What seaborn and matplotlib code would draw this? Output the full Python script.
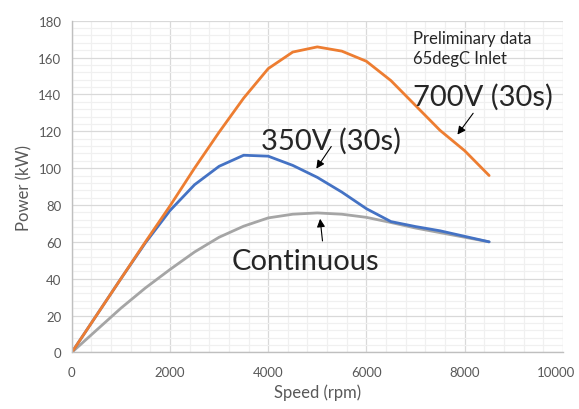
import numpy as np
import pandas as pd
import matplotlib
matplotlib.use("Agg")
import matplotlib.pyplot as plt
import matplotlib.transforms as mtransforms
from matplotlib.ticker import MultipleLocator
import seaborn as sns

# Values (kW against rpm)
speed = [0, 500, 1000, 1500, 2000, 2500, 3000, 3500, 4000, 4500,
         5000, 5500, 6000, 6500, 7000, 7500, 8000, 8500]
power_700 = [0, 20, 40, 60, 79.5, 100, 119.5, 138, 154, 163,
             165.8, 163.5, 158, 147.5, 134, 120.5, 109.5, 96]
power_350 = [0, 20, 40, 59.5, 77, 91, 101, 107, 106.5, 101.5,
             95, 87, 78, 71, 68.3, 66, 63, 60]
power_cont = [0, 12, 24, 35, 45, 54.5, 62.5, 68.5, 73, 75,
              75.7, 75, 73.3, 70.5, 67.5, 65, 62.5, 60]
x_ticks = [0, 2000, 4000, 6000, 8000, 10000]

data = pd.concat([
    pd.DataFrame({"speed": speed, "power": power_700, "series": "700V (30s)"}),
    pd.DataFrame({"speed": speed, "power": power_350, "series": "350V (30s)"}),
    pd.DataFrame({"speed": speed, "power": power_cont, "series": "Continuous"}),
], ignore_index=True)
palette = {"700V (30s)": "#ED7D31", "350V (30s)": "#4472C4", "Continuous": "#A5A5A5"}
draw_order = ["Continuous", "350V (30s)", "700V (30s)"]

sns.set_style("white")
plt.rcParams["font.family"] = ["Lato", "DejaVu Sans"]

fig = plt.figure(figsize=(5.79, 4.10), dpi=100)
ax = fig.add_axes([0.124, 0.138, 0.848, 0.809])

ax.set_xlim(0, 10000)
ax.set_ylim(0, 180)
ax.set_xticks(x_ticks)
ax.xaxis.set_minor_locator(MultipleLocator(400))
ax.yaxis.set_major_locator(MultipleLocator(20))
ax.yaxis.set_minor_locator(MultipleLocator(4))
ax.grid(which="minor", color="#f0f0f0", linewidth=0.9)
ax.grid(which="major", color="#d9d9d9", linewidth=0.9)
ax.set_axisbelow(True)

sns.lineplot(data=data, x="speed", y="power", hue="series", hue_order=draw_order,
             palette=palette, linewidth=2.0, sort=False, estimator=None,
             legend=False, ax=ax)
ax.set_xlim(0, 10000)
ax.set_ylim(0, 180)

for side in ["top", "right"]:
    ax.spines[side].set_visible(False)
for side in ["left", "bottom"]:
    ax.spines[side].set_color("#bfbfbf")
    ax.spines[side].set_linewidth(1.0)

ax.tick_params(which="major", length=4, color="#bfbfbf", labelsize=9.5, labelcolor="#595959")
ax.tick_params(axis="x", which="major", pad=6)
ax.tick_params(which="minor", length=0)
ax.set_xlabel("Speed (rpm)", fontsize=12, color="#595959", labelpad=4)
ax.set_ylabel("Power (kW)", fontsize=12, color="#595959", labelpad=4)

ax.text(6950, 175, "Preliminary data\n65degC Inlet", fontsize=12, color="#262626",
        va="top", ha="left", linespacing=1.3)

arrow = dict(arrowstyle="-|>", color="black", lw=0.8, mutation_scale=12)
ax.text(6950, 134.5, "700V (30s)", fontsize=21, color="#262626")
ax.annotate("", xy=(7821, 117), xytext=(8208, 131), arrowprops=arrow)
ax.text(3850, 110.5, "350V (30s)", fontsize=21, color="#262626")
ax.annotate("", xy=(4949, 98.5), xytext=(5316, 113), arrowprops=arrow)
ax.text(3250, 45, "Continuous", fontsize=21, color="#262626")
ax.annotate("", xy=(5051, 74), xytext=(5112, 59), arrowprops=arrow)

# draw once so the ticks exist, then nudge the last x label inward (Excel does this)
fig.canvas.draw()
last = ax.xaxis.get_major_ticks()[-1].label1
last.set_transform(last.get_transform()
                   + mtransforms.ScaledTranslation(-5 / 72, 0, fig.dpi_scale_trans))

fig.savefig("out.png", dpi=100)
